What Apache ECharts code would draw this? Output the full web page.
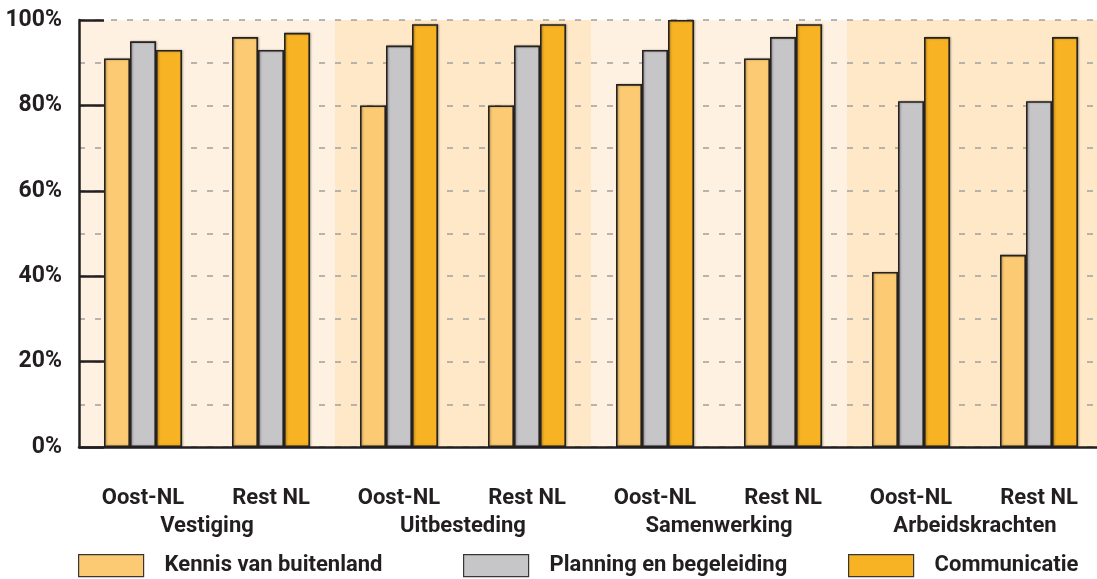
<!DOCTYPE html>
<html>
<head>
<meta charset="utf-8">
<script src="https://cdn.jsdelivr.net/npm/echarts@6/dist/echarts.min.js"></script>
<style>
  html, body { margin: 0; padding: 0; background: #ffffff; }
  #chart { width: 1097px; height: 579px; }
</style>
</head>
<body>
<div id="chart"></div>
<script>
// Region per bar pair, grouped by type of activity
const categories = ['Oost-NL', 'Rest NL', 'Oost-NL', 'Rest NL', 'Oost-NL', 'Rest NL', 'Oost-NL', 'Rest NL'];
const groups = ['Vestiging', 'Uitbesteding', 'Samenwerking', 'Arbeidskrachten'];
const seriesNames = ['Kennis van buitenland', 'Planning en begeleiding', 'Communicatie'];

// Percentages per category
const kennis = [91, 96, 80, 80, 85, 91, 41, 45];
const planning = [95, 93, 94, 94, 93, 96, 81, 81];
const communicatie = [93, 97, 99, 99, 100, 99, 96, 96];

// Background band height per group (full scale)
const bandValues = [100, 100, 100, 100];

const FONT = 'Roboto, "Liberation Sans", sans-serif';
const TEXT = '#231f20';
const colors = ['#fcca72', '#c6c6c8', '#f7b323'];
const bandColors = ['#fef1e1', '#fee8c8'];

const chart = echarts.init(document.getElementById('chart'), null, { renderer: 'canvas' });

const barStyle = (c) => ({
  color: c,
  borderColor: '#262222',
  borderWidth: 1.6,
  shadowColor: 'rgba(0,0,0,0.3)',
  shadowBlur: 2,
  shadowOffsetX: 1,
  shadowOffsetY: 0
});

const legendFor = (name, left) => ({
  data: [name],
  left: left,
  top: 554,
  padding: 0,
  itemWidth: 65,
  itemHeight: 22,
  icon: 'rect',
  selectedMode: false,
  itemStyle: { borderColor: '#3a3535', borderWidth: 1.2 },
  textStyle: { fontFamily: FONT, fontWeight: 'bold', fontSize: 22, color: TEXT, padding: [4, 0, 0, 16] }
});

const option = {
  animation: false,
  backgroundColor: '#ffffff',
  textStyle: { fontFamily: FONT },
  grid: { left: 79, top: 20, width: 1024, height: 427, containLabel: false, outerBoundsMode: 'none' },
  legend: [
    legendFor(seriesNames[0], 78),
    legendFor(seriesNames[1], 463),
    legendFor(seriesNames[2], 848)
  ],
  xAxis: [
    {
      type: 'category',
      data: categories,
      position: 'bottom',
      z: 4,
      axisLine: { show: true, lineStyle: { color: TEXT, width: 2.5 } },
      axisTick: { show: false },
      axisLabel: { margin: 40, fontFamily: FONT, fontWeight: 'bold', fontSize: 22, color: TEXT, interval: 0 },
      splitLine: { show: false }
    },
    {
      type: 'category',
      data: groups,
      position: 'bottom',
      z: 4,
      axisLine: { show: false },
      axisTick: { show: false },
      axisLabel: { margin: 68, fontFamily: FONT, fontWeight: 'bold', fontSize: 22, color: TEXT, interval: 0 },
      splitLine: { show: false }
    }
  ],
  yAxis: {
    type: 'value',
    min: 0,
    max: 100,
    interval: 20,
    z: 2,
    axisLine: { show: true, lineStyle: { color: TEXT, width: 2.5 } },
    axisTick: { show: true, inside: true, length: 25, lineStyle: { color: TEXT, width: 2.5 } },
    minorTick: { show: false, splitNumber: 2 },
    axisLabel: {
      margin: 17,
      formatter: '{value}%',
      fontFamily: FONT, fontWeight: 'bold', fontSize: 23, color: TEXT
    },
    splitLine: { show: true, lineStyle: { color: '#a0a0a0', width: 1.6, type: [6, 10] } },
    minorSplitLine: { show: true, lineStyle: { color: '#a0a0a0', width: 1.6, type: [6, 10] } }
  },
  series: [
    {
      name: 'bands',
      type: 'bar',
      xAxisIndex: 1,
      barWidth: '100%',
      silent: true,
      z: 1,
      data: bandValues.map((v, i) => ({ value: v, itemStyle: { color: bandColors[i % 2] } })),
      itemStyle: { borderWidth: 0 }
    },
    {
      name: seriesNames[0], type: 'bar', xAxisIndex: 0, z: 3,
      barWidth: 26, barGap: '0%', data: kennis, itemStyle: barStyle(colors[0])
    },
    {
      name: seriesNames[1], type: 'bar', xAxisIndex: 0, z: 3,
      barWidth: 26, barGap: '0%', data: planning, itemStyle: barStyle(colors[1])
    },
    {
      name: seriesNames[2], type: 'bar', xAxisIndex: 0, z: 3,
      barWidth: 26, barGap: '0%', data: communicatie, itemStyle: barStyle(colors[2])
    }
  ]
};

chart.setOption(option);
</script>
</body>
</html>
